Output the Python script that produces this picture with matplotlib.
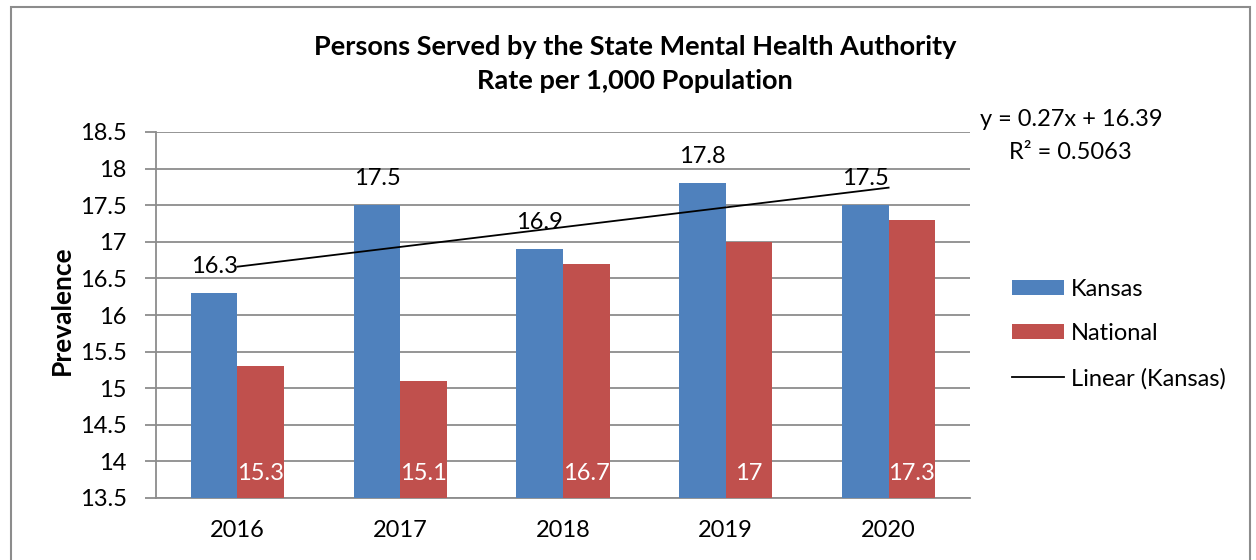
import numpy as np
import matplotlib
matplotlib.use("Agg")
import matplotlib.pyplot as plt
from matplotlib.patches import Rectangle, Patch
from matplotlib.lines import Line2D

years = ["2016", "2017", "2018", "2019", "2020"]
kansas = [16.3, 17.5, 16.9, 17.8, 17.5]
national = [15.3, 15.1, 16.7, 17.0, 17.3]
national_labels = ["15.3", "15.1", "16.7", "17", "17.3"]
kansas_labels = ["16.3", "17.5", "16.9", "17.8", "17.5"]
yticks = [13.5, 14, 14.5, 15, 15.5, 16, 16.5, 17, 17.5, 18, 18.5]
ytick_labels = ["13.5", "14", "14.5", "15", "15.5", "16", "16.5", "17", "17.5", "18", "18.5"]

plt.rcParams['font.family'] = ['Lato', 'DejaVu Sans']
FS = 17

W, H = 1256, 560
fig = plt.figure(figsize=(W / 100, H / 100), dpi=100)
fig.patch.set_facecolor("white")

# chart border
fig.patches.append(Rectangle((11 / W, -0.01), (1250 - 11) / W, 1 - 7 / H + 0.01,
                             transform=fig.transFigure, fill=False,
                             edgecolor="#8c8c8c", linewidth=1.5))

ax = fig.add_axes([156 / W, 1 - 498 / H, (970 - 156) / W, (498 - 132) / H])

grid_c = "#8c8c8c"
x = np.arange(len(years))
bw = 0.286
ax.bar(x - bw / 2, kansas, bw, bottom=0, color="#4F81BD", zorder=3)
ax.bar(x + bw / 2, national, bw, bottom=0, color="#C0504D", zorder=3)

# trendline
coef = np.polyfit(np.arange(1, len(kansas) + 1), kansas, 1)
tx = np.array([1, len(kansas)])
ax.plot(tx - 1, np.polyval(coef, tx), color="black", linewidth=1.3, zorder=5)

for i in range(len(years)):
    ax.annotate(kansas_labels[i], (x[i] - bw / 2, kansas[i]), xytext=(0, 19),
                textcoords="offset points", ha="center", va="center",
                fontsize=FS, color="black", zorder=6)
    ax.annotate(national_labels[i], (x[i] + bw / 2, 13.5), xytext=(0, 18),
                textcoords="offset points", ha="center", va="center",
                fontsize=FS, color="white", zorder=6)

ax.set_ylim(13.5, 18.5)
ax.set_xlim(-0.5, len(years) - 0.5)
ax.set_yticks(yticks)
ax.set_yticklabels(ytick_labels)
ax.set_xticks(x)
ax.set_xticklabels(years)
ax.yaxis.grid(True, color=grid_c, linewidth=1.3, zorder=0)
ax.set_axisbelow(True)
for s in ["top", "right"]:
    ax.spines[s].set_visible(False)
for s in ["left", "bottom"]:
    ax.spines[s].set_color(grid_c)
    ax.spines[s].set_linewidth(1.3)
ax.tick_params(axis="y", length=8, width=1.3, color=grid_c, pad=13, labelsize=FS)
ax.tick_params(axis="x", length=0, pad=16, labelsize=FS)
ax.set_ylabel("Prevalence", fontsize=19, fontweight="bold")
ax.yaxis.set_label_coords((62 - 156) / 814, (498 - 310) / 366)
ax.yaxis.label.set_va("center")

fig.text(0.5056, 1 - 47 / H, "Persons Served by the State Mental Health Authority",
         ha="center", va="center", fontsize=19.5, fontweight="bold")
fig.text(0.5056, 1 - 81 / H, "Rate per 1,000 Population",
         ha="center", va="center", fontsize=19.5, fontweight="bold")

fig.text(1071 / W, 1 - 119 / H, "y = 0.27x + 16.39", ha="center", va="center", fontsize=FS)
fig.text(1070 / W, 1 - 153 / H, "R² = 0.5063", ha="center", va="center", fontsize=FS)

handles = [Patch(facecolor="#4F81BD", edgecolor="none", label="Kansas"),
           Patch(facecolor="#C0504D", edgecolor="none", label="National"),
           Line2D([0], [0], color="black", linewidth=1.3, label="Linear (Kansas)")]
fig.legend(handles=handles, loc="center left", bbox_to_anchor=(1012 / W, 1 - 334 / H),
           frameon=False, fontsize=FS, handlelength=2.2, handleheight=0.6,
           handletextpad=0.3, labelspacing=1.0, borderaxespad=0, borderpad=0)

fig.savefig("out.png", dpi=100, facecolor="white")
